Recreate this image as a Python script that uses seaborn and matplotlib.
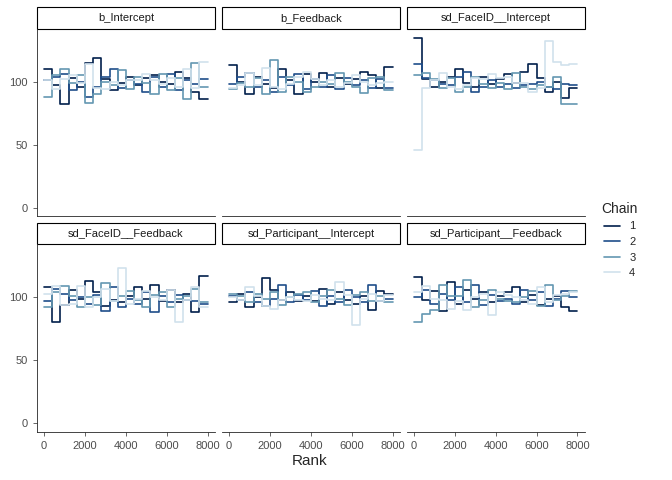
import numpy as np
import pandas as pd
import seaborn as sns
import matplotlib.pyplot as plt
from matplotlib.lines import Line2D

params = ["b_Intercept", "b_Feedback", "sd_FaceID__Intercept",
          "sd_FaceID__Feedback", "sd_Participant__Intercept", "sd_Participant__Feedback"]
bins = list(range(0, 8000, 400))  # 20 rank bins

# counts per rank bin, per parameter, per chain
b_Intercept = {
    1: [110, 97, 82, 103, 96, 115, 119, 102, 93, 99, 104, 97, 103, 105, 100, 98, 108, 103, 92, 86],
    2: [101, 104, 106, 93, 100, 88, 96, 104, 110, 95, 101, 98, 92, 104, 96, 106, 93, 101, 98, 102],
    3: [88, 105, 110, 99, 105, 83, 90, 100, 97, 109, 94, 104, 99, 90, 106, 93, 103, 86, 115, 96],
    4: [101, 94, 102, 105, 99, 114, 95, 94, 100, 97, 101, 101, 106, 101, 98, 103, 96, 110, 95, 116],
}
b_Feedback = {
    1: [113, 100, 90, 104, 98, 95, 110, 101, 90, 106, 100, 107, 96, 103, 98, 102, 108, 105, 95, 112],
    2: [98, 104, 107, 96, 101, 92, 104, 97, 106, 94, 102, 96, 105, 94, 103, 97, 101, 95, 102, 95],
    3: [94, 99, 96, 103, 90, 117, 92, 104, 100, 92, 96, 100, 98, 107, 100, 96, 91, 103, 104, 93],
    4: [95, 97, 107, 97, 111, 96, 94, 98, 104, 108, 102, 97, 101, 96, 99, 105, 100, 97, 99, 100],
}
sd_FaceID__Intercept = {
    1: [135, 102, 96, 100, 104, 110, 99, 96, 104, 98, 102, 106, 99, 108, 114, 103, 92, 100, 87, 95],
    2: [114, 103, 101, 98, 97, 104, 108, 92, 96, 101, 96, 98, 95, 97, 98, 100, 96, 94, 98, 97],
    3: [105, 107, 102, 95, 103, 92, 96, 104, 98, 95, 99, 94, 107, 96, 94, 97, 96, 104, 82, 82],
    4: [46, 95, 101, 107, 96, 94, 97, 103, 102, 106, 103, 104, 99, 99, 92, 95, 132, 116, 113, 114],
}
sd_FaceID__Feedback = {
    1: [108, 80, 94, 106, 99, 113, 104, 93, 98, 96, 101, 108, 99, 110, 97, 106, 96, 103, 88, 117],
    2: [97, 107, 103, 98, 100, 95, 102, 89, 108, 92, 99, 95, 104, 88, 101, 96, 102, 98, 97, 95],
    3: [92, 104, 109, 101, 92, 100, 94, 111, 97, 101, 105, 98, 92, 102, 104, 92, 99, 101, 107, 96],
    4: [103, 109, 94, 95, 109, 92, 100, 107, 97, 123, 95, 99, 105, 100, 98, 106, 80, 98, 108, 92],
}
sd_Participant__Intercept = {
    1: [96, 103, 92, 100, 115, 106, 98, 104, 97, 101, 97, 107, 95, 104, 98, 95, 101, 90, 105, 103],
    2: [101, 98, 104, 96, 93, 99, 110, 96, 102, 98, 105, 93, 101, 96, 106, 100, 96, 110, 97, 99],
    3: [103, 101, 96, 103, 99, 104, 94, 100, 103, 104, 96, 101, 106, 99, 94, 102, 104, 97, 101, 96],
    4: [100, 98, 108, 101, 93, 91, 98, 100, 98, 97, 102, 99, 98, 112, 102, 78, 99, 103, 97, 102],
}
sd_Participant__Feedback = {
    1: [116, 98, 105, 89, 112, 95, 106, 99, 104, 96, 101, 104, 108, 96, 102, 94, 99, 101, 92, 89],
    2: [100, 106, 95, 103, 98, 108, 96, 110, 94, 102, 97, 99, 95, 106, 98, 104, 93, 99, 105, 100],
    3: [80, 87, 90, 110, 101, 101, 114, 92, 98, 106, 99, 97, 96, 100, 105, 93, 110, 98, 101, 105],
    4: [104, 109, 99, 98, 91, 97, 90, 100, 103, 86, 104, 102, 100, 98, 95, 108, 96, 102, 103, 104],
}
all_counts = [b_Intercept, b_Feedback, sd_FaceID__Intercept,
              sd_FaceID__Feedback, sd_Participant__Intercept, sd_Participant__Feedback]

colors = {1: "#011f4b", 2: "#1f4e8a", 3: "#6497b1", 4: "#d1e1ec"}

rows = []
for p, counts in zip(params, all_counts):
    for ch, vals in counts.items():
        xs = bins + [8000]
        ys = vals + [vals[-1]]
        for x, y in zip(xs, ys):
            rows.append({"parameter": p, "chain": ch, "rank": x, "n": y})
df = pd.DataFrame(rows)

sns.set_style("white")
plt.rcParams["font.family"] = ["Liberation Sans", "DejaVu Sans"]
fig, axes = plt.subplots(2, 3, figsize=(6.72, 4.8), dpi=100, sharex=True, sharey=True)
fig.subplots_adjust(left=0.055, right=0.87, top=0.94, bottom=0.1, wspace=0.04, hspace=0.15)

for ax, p in zip(axes.flat, params):
    sub = df[df.parameter == p]
    sns.lineplot(data=sub, x="rank", y="n", hue="chain", palette=colors,
                 drawstyle="steps-post", ax=ax, legend=False, linewidth=1.2,
                 estimator=None)
    ax.set_xlim(-350, 8350)
    ax.set_ylim(-7, 142)
    ax.set_yticks([0, 50, 100])
    ax.set_xticks([0, 2000, 4000, 6000, 8000])
    ax.set_xlabel("")
    ax.set_ylabel("")
    for s in ["top", "right"]:
        ax.spines[s].set_visible(False)
    ax.spines["left"].set_visible(ax in axes[:, 0])
    ax.tick_params(labelsize=8, colors="#4d4d4d", length=3, width=0.6)
    ax.tick_params(axis="y", left=ax in axes[:, 0])
    ax.tick_params(axis="x", bottom=ax in axes[1])
    for s in ax.spines.values():
        s.set_linewidth(0.6)
    # facet strip
    ax.add_patch(plt.Rectangle((0, 1.0), 1, 0.115, transform=ax.transAxes,
                               fill=False, ec="black", lw=0.8, clip_on=False))
    ax.text(0.5, 1.058, p, transform=ax.transAxes, ha="center", va="center",
            fontsize=8, color="#1a1a1a")

fig.supxlabel("Rank", x=0.46, y=0.025, fontsize=11)
handles = [Line2D([], [], color=colors[c], lw=1.2) for c in [1, 2, 3, 4]]
fig.legend(handles, ["1", "2", "3", "4"], title="Chain", loc="center left",
           bbox_to_anchor=(0.88, 0.5), frameon=False, fontsize=8, title_fontsize=10,
           handlelength=1.5)
fig.savefig("out.png", dpi=100)
